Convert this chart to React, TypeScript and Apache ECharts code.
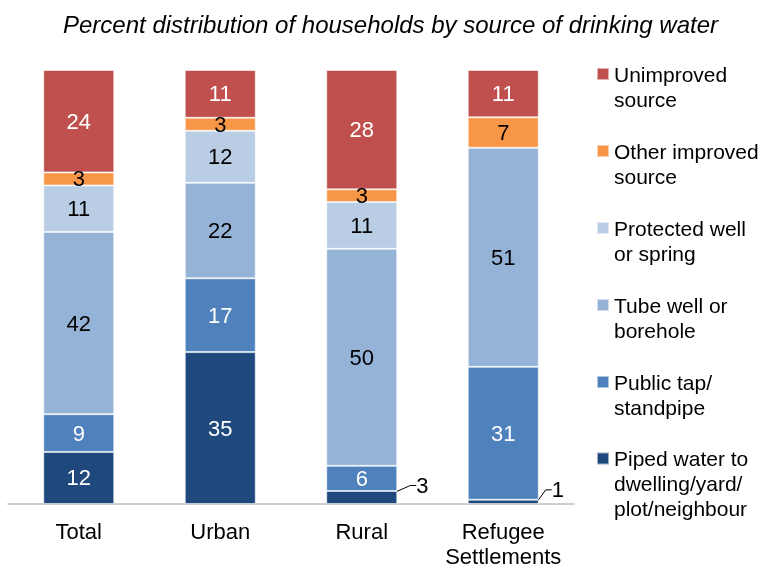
import React, { useEffect, useRef } from "react";
import * as echarts from "echarts";

const categories = ["Total", "Urban", "Rural", "Refugee\nSettlements"];
const seriesNames = [
  "Piped water to dwelling/yard/plot/neighbour",
  "Public tap/standpipe",
  "Tube well or borehole",
  "Protected well or spring",
  "Other improved source",
  "Unimproved source",
];
const legendLabels = [
  "Piped water to\ndwelling/yard/\nplot/neighbour",
  "Public tap/\nstandpipe",
  "Tube well or\nborehole",
  "Protected well\nor spring",
  "Other improved\nsource",
  "Unimproved\nsource",
];
const piped = [12, 35, 3, 1];
const publicTap = [8.7, 17, 5.8, 30.6];
const tubeWell = [42, 22, 50, 50.5];
const protectedWell = [10.7, 12, 10.8, 0];
const otherImproved = [3, 3, 2.9, 7];
const unimproved = [23.6, 11, 27.5, 10.9];
const seriesValues = [piped, publicTap, tubeWell, protectedWell, otherImproved, unimproved];

const colors = ["#1F497D", "#4F81BD", "#95B3D7", "#B9CDE5", "#F79646", "#C0504D"];
const labelColors = ["#ffffff", "#ffffff", "#000000", "#000000", "#000000", "#ffffff"];
const FONT = "'Liberation Sans', Arial, sans-serif";

export default function App() {
  const ref = useRef<HTMLDivElement>(null);
  useEffect(() => {
    if (!ref.current) return;
    const chart = echarts.init(ref.current, undefined, { renderer: "svg" });

    const series = seriesValues.map((vals, i) => ({
      name: seriesNames[i],
      type: "bar",
      stack: "total",
      barWidth: 71,
      data: vals.map((v, j) => {
        const item: any = { value: v };
        if (v === 0) item.label = { show: false };
        else if (i === 0 && v < 5) {
          item.label = { position: "right", color: "#000", distance: v < 2 ? 13 : 19 };
          item.labelLine = { show: true, length2: 6, lineStyle: { color: "#000", width: 1 } };
        }
        return item;
      }),
      itemStyle: { color: colors[i], borderColor: "rgba(255,255,255,0.55)", borderWidth: 1 },
      label: {
        show: true,
        position: "inside",
        color: labelColors[i],
        fontSize: 22,
        fontFamily: FONT,
        formatter: (p: any) => String(Math.round(p.value)),
      },
      labelLayout:
        i === 0
          ? (params: any) => {
              const v = piped[params.dataIndex];
              if (v < 5) return { dy: -12 };
              return {};
            }
          : undefined,
    }));

    const iconCenters = [458.5, 382, 305, 228, 151, 74];
    const legends = seriesNames.map((name, i) => {
      const lines = legendLabels[i].split("\n").length;
      const total = lines * 2 - 1;
      return {
        data: [name],
        orient: "vertical",
        left: 596,
        top: iconCenters[i] - (total * 25) / 2,
        padding: 0,
        itemWidth: 12,
        itemHeight: 12,
        icon: "rect",
        selectedMode: false,
        formatter: () => "\n".repeat(lines - 1) + legendLabels[i],
        textStyle: { fontSize: 21, fontFamily: FONT, color: "#000", lineHeight: 25 },
      };
    });

    chart.setOption({
      animation: false,
      color: colors,
      title: {
        text: "Percent distribution of households by source of drinking water",
        left: 63,
        top: 12,
        padding: 0,
        textStyle: { fontSize: 24, fontStyle: "italic", fontWeight: "normal", fontFamily: FONT, color: "#000" },
      },
      legend: legends,
      grid: { left: 8, right: 187, top: 70, bottom: 66, containLabel: false },
      xAxis: {
        type: "category",
        data: categories,
        axisTick: { show: false },
        axisLine: { lineStyle: { color: "#BFBFBF", width: 1.5 } },
        axisLabel: { fontSize: 22, fontFamily: FONT, color: "#000", lineHeight: 25, margin: 15, interval: 0 },
      },
      yAxis: { type: "value", min: 0, max: 100, show: false },
      series,
    });
    return () => chart.dispose();
  }, []);
  return <div ref={ref} style={{ position: "fixed", left: 0, top: 0, width: 761, height: 570 }} />;
}
